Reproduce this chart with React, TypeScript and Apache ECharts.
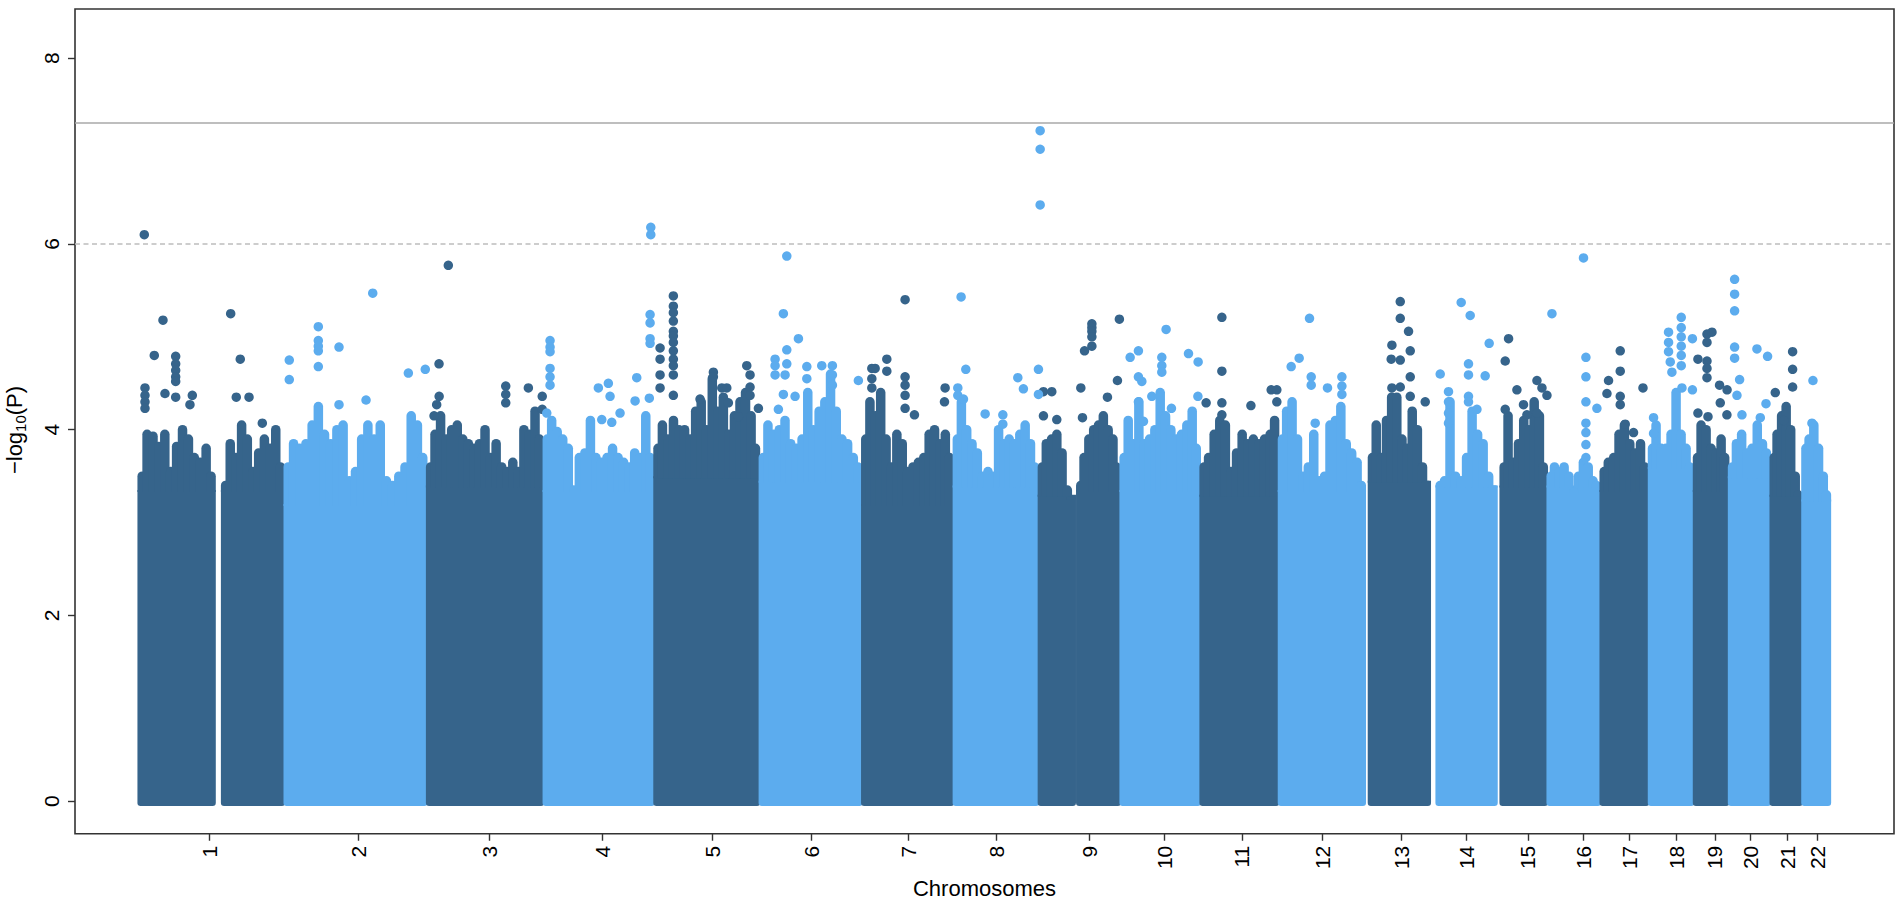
import React, { useEffect, useRef } from "react";
import * as echarts from "echarts";

// ---------- data (positions in cumulative Mb along the genome, values in -log10(P)) ----------
const chromLabels = ["1","2","3","4","5","6","7","8","9","10","11","12","13","14","15","16","17","18","19","20","21","22"];
const tickPos = [124.2, 377.6, 600.3, 792.6, 979.8, 1147.5, 1312.5, 1462.3, 1620.6, 1748.3, 1880.6, 2017.6, 2151.5, 2261.8, 2367, 2461.8, 2539.6, 2619.9, 2685.3, 2746, 2808.2, 2859.1];

// dense SNP mass per chromosome segment: span, level below which it is solid, and upper envelope samples
const segChrom = [1, 1, 2, 3, 4, 5, 6, 7, 8, 9, 9, 10, 11, 12, 13, 14, 15, 16, 17, 18, 19, 20, 21, 22];
const segStart = [2.6, 144.6, 251.1, 493.4, 691.9, 880.3, 1059.5, 1233.8, 1389.6, 1534.3, 1599.6, 1673.4, 1809.5, 1942.8, 2095.9, 2211.1, 2320, 2400, 2490.2, 2572.4, 2649, 2708.6, 2779.5, 2833.5];
const segEnd = [133.2, 251.1, 493.4, 691.9, 880.3, 1059.5, 1233.8, 1389.6, 1534.3, 1596.8, 1673.4, 1809.5, 1942.8, 2090.3, 2200.9, 2314.4, 2400, 2490.2, 2572.4, 2649, 2708.6, 2779.5, 2833.5, 2881.7];
const segSolid = [3.35, 3.35, 3.2, 3.4, 3.35, 3.5, 3.45, 3.2, 3.4, 3.3, 3.35, 3.35, 3.3, 3.35, 3.45, 3.4, 3.4, 3.4, 3.35, 3.6, 3.35, 3.5, 3.3, 3.25];
const segTop: number[][] = [
  [3.5, 3.95, 3.93, 3.82, 3.95, 3.55, 3.82, 4.0, 3.9, 3.7, 3.65, 3.8, 3.5],
  [3.4, 3.85, 3.7, 4.05, 3.9, 3.55, 3.75, 3.9, 3.8, 4.0, 3.6],
  [3.6, 3.85, 3.8, 3.85, 4.05, 4.25, 3.95, 3.85, 4.0, 4.05, 3.45, 3.55, 3.9, 4.05, 3.9, 4.05, 3.45, 3.4, 3.5, 3.6, 4.15, 4.05, 3.7],
  [3.6, 3.95, 4.15, 3.9, 4.0, 4.05, 3.9, 3.85, 3.8, 3.85, 4.0, 3.7, 3.85, 3.6, 3.55, 3.65, 3.55, 4.0, 3.95, 4.2, 3.9],
  [3.9, 4.1, 3.98, 3.9, 3.8, 3.35, 3.7, 3.75, 4.1, 3.7, 3.65, 3.7, 3.8, 3.7, 3.65, 3.6, 3.75, 3.7, 4.15, 3.7],
  [3.8, 4.05, 3.9, 4.1, 4.0, 4.0, 3.9, 4.2, 4.3, 4.0, 4.55, 4.2, 4.35, 3.95, 4.15, 4.3, 4.4, 4.15, 3.8],
  [3.7, 4.05, 3.95, 4.0, 4.1, 3.85, 3.8, 3.9, 4.4, 4.0, 4.2, 4.3, 4.6, 4.2, 3.9, 3.85, 3.7, 3.6],
  [3.9, 4.3, 4.15, 4.4, 3.9, 3.6, 3.95, 3.85, 3.55, 3.6, 3.65, 3.7, 3.95, 4.0, 3.85, 3.95, 3.7],
  [3.9, 4.3, 4.0, 3.85, 3.75, 3.5, 3.55, 3.5, 4.0, 3.85, 3.9, 3.85, 3.95, 4.05, 3.85, 3.6],
  [3.6, 3.85, 3.9, 3.95, 3.75, 3.35, 3.2],
  [3.4, 3.7, 3.9, 4.0, 4.05, 4.15, 4.0, 3.9, 3.6],
  [3.7, 4.1, 3.85, 4.3, 3.85, 3.9, 4.0, 4.4, 4.15, 4.0, 3.9, 3.95, 4.05, 4.2, 3.8],
  [3.6, 3.7, 3.95, 4.1, 4.05, 3.55, 3.75, 3.95, 3.85, 3.9, 3.85, 3.9, 3.95, 4.1],
  [3.9, 4.2, 4.3, 3.9, 3.5, 3.6, 3.95, 3.45, 3.5, 4.05, 4.1, 4.25, 3.85, 3.75, 3.65, 3.4],
  [3.7, 4.05, 3.7, 4.1, 4.35, 4.35, 3.9, 3.8, 4.2, 4.0, 3.6, 3.4],
  [3.4, 3.45, 4.3, 3.5, 3.45, 3.7, 4.2, 3.95, 3.85, 3.5, 3.35],
  [3.6, 4.15, 3.65, 3.85, 4.1, 4.0, 4.3, 4.15, 3.6],
  [3.5, 3.6, 3.55, 3.6, 3.5, 3.0, 3.5, 3.65, 3.6, 3.45, 3.4],
  [3.55, 3.65, 3.7, 3.95, 4.05, 3.85, 3.75, 3.85, 3.6],
  [3.8, 4.05, 3.8, 3.8, 3.95, 4.4, 3.95, 3.8, 3.6],
  [3.7, 4.05, 4.0, 3.8, 3.75, 3.9, 3.7],
  [3.6, 3.85, 3.95, 3.75, 3.8, 4.05, 3.85, 3.75],
  [3.7, 3.95, 4.15, 4.25, 4.0, 3.5, 3.3],
  [3.8, 3.9, 4.05, 3.8, 3.5, 3.3],
];

// isolated SNPs above the dense mass, per chromosome: [position, -log10(P)]
const outliers: number[][][] = [
  [[12.9,6.10],[44.7,5.18],[29.9,4.80],[66.3,4.79],[66.3,4.71],[66.3,4.64],[66.3,4.57],[66.3,4.52],[14.1,4.45],[14.1,4.37],[14.1,4.30],[14.1,4.23],[48.1,4.39],[66.3,4.35],[94.6,4.37],[90.6,4.27],[159.9,5.25],[176.2,4.76],[169.4,4.35],[191.1,4.35],[213.7,4.07]],
  [[259.6,4.75],[259.6,4.54],[309,5.11],[309,4.96],[309,4.90],[309,4.85],[309,4.68],[344.2,4.89],[401.6,5.47],[390.2,4.32],[344.2,4.27],[462.2,4.61],[491,4.65]],
  [[530.2,5.77],[514.4,4.71],[514.6,4.36],[510.4,4.27],[505.9,4.15],[627.9,4.47],[627.9,4.38],[627.9,4.29],[666.4,4.45],[690,4.36],[690,4.22]],
  [[703.3,4.96],[703.3,4.89],[703.3,4.84],[703.3,4.66],[703.3,4.57],[703.3,4.48],[697.7,4.18],[785.5,4.45],[802.5,4.50],[805.4,4.36],[791.3,4.11],[808.3,4.08],[822.4,4.18],[850.8,4.56],[848,4.31],[873.5,5.24],[873.5,5.15],[873.5,4.98],[873.5,4.93],[874.7,6.18],[874.7,6.10],[872.2,4.34]],
  [[890.5,4.88],[890.5,4.76],[890.5,4.59],[890.5,4.45],[913.1,5.44],[913.1,5.33],[913.1,5.26],[913.1,5.17],[913.1,5.06],[913.1,5.01],[913.1,4.94],[913.1,4.85],[913.1,4.76],[913.1,4.69],[913.1,4.59],[913.1,4.37],[981.2,4.62],[981.2,4.57],[995.5,4.45],[1004,4.45],[1006.7,4.29],[958.5,4.33],[1038,4.69],[1043.6,4.59],[1043.6,4.46],[1043.6,4.37],[1057.8,4.23],[1023.7,4.14]],
  [[1106.1,5.87],[1100.3,5.25],[1106.1,4.86],[1106.1,4.71],[1086.2,4.76],[1086.2,4.69],[1086.2,4.59],[1103.2,4.59],[1125.9,4.98],[1100.3,4.38],[1091.8,4.22],[1140.2,4.68],[1140.2,4.55],[1183.7,4.69],[1183.7,4.59],[1183.7,4.48],[1165.6,4.69],[1227.9,4.53],[1120.2,4.36]],
  [[1250.8,4.66],[1250.8,4.55],[1250.8,4.45],[1307.4,5.40],[1276.3,4.76],[1276.3,4.63],[1256.4,4.66],[1307.4,4.57],[1307.4,4.48],[1307.4,4.37],[1307.4,4.23],[1323.3,4.16],[1375.5,4.45],[1374.4,4.30]],
  [[1402.7,5.43],[1410.7,4.65],[1397.1,4.45],[1397.1,4.37],[1406.7,4.33],[1443.6,4.17],[1499.2,4.56],[1508.7,4.44],[1534.3,4.65],[1534.3,4.38],[1473.7,4.16],[1473.7,4.06],[1537.2,7.22],[1537.2,7.02],[1537.2,6.42]],
  [[1625.2,5.14],[1625.2,5.10],[1625.2,5.06],[1625.2,5.00],[1625.2,4.90],[1612.7,4.85],[1672,5.19],[1668.7,4.53],[1651.7,4.35],[1606.4,4.45],[1609.2,4.13],[1542.8,4.41],[1557,4.41],[1542.8,4.15],[1565.5,4.11]],
  [[1751.5,5.08],[1704.4,4.85],[1690.3,4.78],[1744.2,4.78],[1744.2,4.69],[1744.2,4.62],[1789.6,4.82],[1806,4.73],[1704.4,4.57],[1710.2,4.52],[1727.2,4.36],[1805.6,4.36],[1704.4,4.30],[1713,4.09],[1760.6,4.23]],
  [[1846.4,5.21],[1846.4,4.63],[1846.4,4.29],[1846.4,4.16],[1819.6,4.29],[1895.8,4.26],[1930.3,4.43],[1939.9,4.43],[1939.9,4.30]],
  [[1995.5,5.20],[1977.9,4.77],[1964.3,4.68],[1998.4,4.57],[1998.4,4.48],[2026.1,4.45],[2050.6,4.57],[2050.6,4.47],[2050.6,4.38],[2005.2,4.07]],
  [[2149.9,5.38],[2149.9,5.20],[2149.9,4.75],[2149.9,4.46],[2164,5.06],[2135.7,4.91],[2135.7,4.45],[2166.9,4.85],[2166.9,4.57],[2166.9,4.36],[2134.5,4.76],[2192.4,4.30]],
  [[2253.6,5.37],[2268.9,5.23],[2301.2,4.93],[2266,4.71],[2266,4.59],[2266,4.36],[2266,4.30],[2294.4,4.58],[2217.9,4.60],[2232,4.41],[2232,4.30],[2232,4.18],[2232,4.07],[2280.4,4.22]],
  [[2334.2,4.98],[2328.5,4.74],[2328.5,4.22],[2348.4,4.43],[2382.5,4.53],[2382.5,4.18],[2391,4.45],[2399.5,4.37],[2359.6,4.27],[2365.4,4.16]],
  [[2461.7,5.85],[2408,5.25],[2465.8,4.78],[2465.8,4.57],[2465.8,4.30],[2465.8,4.07],[2465.8,3.97],[2465.8,3.84],[2465.8,3.70],[2484.5,4.23]],
  [[2524.2,4.85],[2524.2,4.63],[2524.2,4.36],[2524.2,4.27],[2504.3,4.53],[2501.6,4.39],[2562.9,4.45],[2532.7,4.06],[2546.8,3.97]],
  [[2628,5.21],[2628,5.10],[2628,5.00],[2628,4.90],[2628,4.80],[2628,4.69],[2606.4,5.05],[2606.4,4.94],[2606.4,4.84],[2609.3,4.73],[2612.1,4.62],[2580.9,4.13],[2580.9,3.96],[2629.2,4.45],[2647,4.98],[2647,4.43]],
  [[2671.8,5.03],[2671.8,4.94],[2680.3,5.05],[2656.4,4.76],[2671.8,4.74],[2671.8,4.66],[2671.8,4.56],[2693.2,4.48],[2706,4.43],[2694.4,4.29],[2705.7,4.16],[2656.4,4.18],[2673.5,4.14]],
  [[2718.8,5.62],[2718.8,5.46],[2718.8,5.28],[2718.8,4.89],[2718.8,4.77],[2727.3,4.54],[2722.8,4.37],[2731.3,4.16],[2756.8,4.87],[2774.9,4.79],[2772.2,4.28],[2762.5,4.13]],
  [[2817.5,4.84],[2817.5,4.65],[2817.5,4.46],[2788,4.40],[2802.2,4.10]],
  [[2852.1,4.53],[2850.4,4.07]],
];

const genomeWideLine = 7.3;
const suggestiveLine = 6;
const yTicks = [0, 2, 4, 6, 8];

// ---------- styling ----------
const DARK = "#36648B";
const LIGHT = "#5CACEE";
const FONT = "'Liberation Sans', Arial, Helvetica, sans-serif";
const DOT = 9.5;
const SEAM = 0.8;

export default function App() {
  const ref = useRef<HTMLDivElement>(null);

  useEffect(() => {
    const chart = echarts.init(ref.current as HTMLDivElement, null, { renderer: "svg" });

    const darkPts: number[][] = [];
    const lightPts: number[][] = [];
    outliers.forEach((list, ci) => list.forEach((p) => (ci % 2 === 0 ? darkPts : lightPts).push(p)));

    const massData = segStart.map((s, i) => [s, segEnd[i], Math.max(...segTop[i]), segChrom[i]]);

    const option: any = {
      animation: false,
      grid: {
        left: 75, right: 8, top: 9, bottom: 59,
        show: true, borderColor: "#333", borderWidth: 1.6, backgroundColor: "transparent",
      },
      xAxis: {
        type: "value", min: -105, max: 2990,
        axisLine: { show: false, onZero: false },
        splitLine: { show: false },
        axisTick: { show: true, customValues: tickPos, length: 7, lineStyle: { color: "#333", width: 1.4 } },
        axisLabel: {
          customValues: tickPos, rotate: 90, margin: 12, fontSize: 21, color: "#000", fontFamily: FONT,
          formatter: (v: number) => {
            let best = 0;
            tickPos.forEach((t, i) => { if (Math.abs(t - v) < Math.abs(tickPos[best] - v)) best = i; });
            return chromLabels[best];
          },
        },
        name: "Chromosomes", nameLocation: "middle", nameGap: 34,
        nameTextStyle: { fontSize: 22, color: "#000", fontFamily: FONT },
      },
      yAxis: {
        type: "value", min: -0.35, max: 8.53,
        axisLine: { show: false, onZero: false },
        splitLine: { show: false },
        axisTick: { show: true, customValues: yTicks, length: 7, lineStyle: { color: "#333", width: 1.4 } },
        axisLabel: { customValues: yTicks, rotate: 90, margin: 13, fontSize: 21, color: "#000", fontFamily: FONT },
      },
      graphic: [
        {
          type: "text", x: 14, y: 430, rotation: Math.PI / 2,
          style: {
            text: "{a|−log}{s|10}{a|(P)}",
            align: "center", verticalAlign: "middle",
            rich: {
              a: { fontSize: 22, fontFamily: FONT, fill: "#000", lineHeight: 26 },
              s: { fontSize: 15, fontFamily: FONT, fill: "#000", lineHeight: 26, padding: [12, 0, 0, 0] },
            },
          },
        },
      ],
      series: [
        {
          type: "custom",
          data: massData,
          encode: { x: [0, 1], y: 2 },
          silent: true,
          renderItem: (params: any, api: any) => {
            const i = params.dataIndex;
            const s = segStart[i];
            const e = segEnd[i];
            const top = segTop[i];
            const n = top.length;
            const color = segChrom[i] % 2 === 1 ? DARK : LIGHT;
            const p0 = api.coord([s, 0]);
            const p1 = api.coord([e, 0]);
            const yBase = p0[1] + DOT / 2;
            const ySolid = api.coord([s, segSolid[i]])[1];
            const children: any[] = [
              {
                type: "rect",
                shape: { x: p0[0] - SEAM, y: ySolid, width: p1[0] - p0[0] + 2 * SEAM, height: yBase - ySolid, r: [0, 0, DOT / 3, DOT / 3] },
                style: { fill: color },
              },
            ];
            top.forEach((v, k) => {
              const xc = api.coord([s + ((e - s) * (k + 0.5)) / n, v]);
              const left = Math.max(p0[0] - SEAM, Math.min(p1[0] + SEAM - DOT, xc[0] - DOT / 2));
              const yTop = xc[1] - DOT / 2;
              children.push({
                type: "rect",
                shape: { x: left, y: yTop, width: DOT, height: ySolid - yTop + 2, r: [DOT / 2, DOT / 2, 0, 0] },
                style: { fill: color },
              });
            });
            return { type: "group", children };
          },
          z: 1,
        },
        {
          type: "scatter", data: darkPts, symbolSize: DOT, silent: true,
          itemStyle: { color: DARK, opacity: 1 }, z: 2,
          markLine: {
            silent: true, symbol: ["none", "none"], label: { show: false },
            data: [
              { yAxis: genomeWideLine, lineStyle: { type: "solid", color: "#A8A8A8", width: 1.6 } },
              { yAxis: suggestiveLine, lineStyle: { type: [5, 3.5], color: "#BDBDBD", width: 1.6 } },
            ],
          },
        },
        {
          type: "scatter", data: lightPts, symbolSize: DOT, silent: true,
          itemStyle: { color: LIGHT, opacity: 1 }, z: 2,
        },
      ],
    };

    chart.setOption(option);
    return () => chart.dispose();
  }, []);

  return <div ref={ref} style={{ position: "absolute", left: 0, top: 0, width: 1902, height: 904 }} />;
}
